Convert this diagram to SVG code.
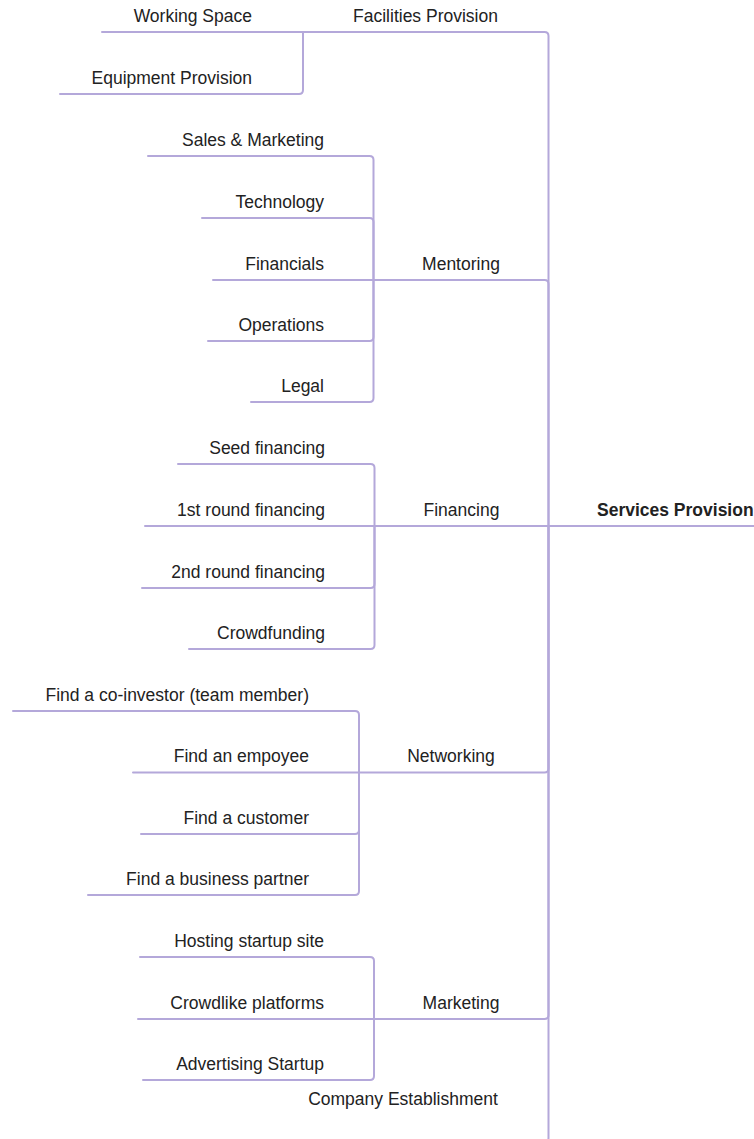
<svg xmlns="http://www.w3.org/2000/svg" width="754" height="1139" viewBox="0 0 754 1139">
<style>
.e{fill:none;stroke:#b4a8da;stroke-width:2;stroke-linecap:round}
text{font-family:"Liberation Sans",Arial,sans-serif;font-size:17.5px;fill:#222}
.r{text-anchor:end}
.m{text-anchor:middle}
.b{font-weight:bold}
</style>
<rect width="754" height="1139" fill="#ffffff"/>
<g id="connectors">
<path class="e" d="M548.5,526 H754"/>
<path class="e" d="M548.5,526 V36 Q548.5,32 544.5,32 H303"/>
<path class="e" d="M548.5,526 V284 Q548.5,280 544.5,280 H373.5"/>
<path class="e" d="M548.5,526 H374.5"/>
<path class="e" d="M548.5,526 V768.5 Q548.5,772.5 544.5,772.5 H359"/>
<path class="e" d="M548.5,526 V1015 Q548.5,1019 544.5,1019 H374"/>
<path class="e" d="M548.5,526 V1138 Q548.5,1142 544.5,1142 H276"/>
<path class="e" d="M303,32 H102"/>
<path class="e" d="M303,32 V90 Q303,94 299,94 H60"/>
<path class="e" d="M373.5,280 V160 Q373.5,156 369.5,156 H148"/>
<path class="e" d="M373.5,280 V222 Q373.5,218 369.5,218 H202"/>
<path class="e" d="M373.5,280 H213"/>
<path class="e" d="M373.5,280 V337 Q373.5,341 369.5,341 H208"/>
<path class="e" d="M373.5,280 V398 Q373.5,402 369.5,402 H251"/>
<path class="e" d="M374.5,526 V468 Q374.5,464 370.5,464 H178"/>
<path class="e" d="M374.5,526 H145"/>
<path class="e" d="M374.5,526 V584 Q374.5,588 370.5,588 H142"/>
<path class="e" d="M374.5,526 V645 Q374.5,649 370.5,649 H189"/>
<path class="e" d="M359,772.5 V715 Q359,711 355,711 H13"/>
<path class="e" d="M359,772.5 H133"/>
<path class="e" d="M359,772.5 V830 Q359,834 355,834 H141"/>
<path class="e" d="M359,772.5 V891 Q359,895 355,895 H88"/>
<path class="e" d="M374,1019 V961 Q374,957 370,957 H140"/>
<path class="e" d="M374,1019 H138"/>
<path class="e" d="M374,1019 V1076 Q374,1080 370,1080 H143"/>
</g>
<g id="root"><text class="b" x="597" y="516">Services Provision</text></g>
<g id="facilities"><text class="m" x="425.5" y="22">Facilities Provision</text></g>
<g id="working-space"><text class="r" x="252" y="22">Working Space</text></g>
<g id="equipment"><text class="r" x="252" y="84">Equipment Provision</text></g>
<g id="mentoring"><text class="m" x="461" y="270">Mentoring</text></g>
<g id="sales"><text class="r" x="324" y="146">Sales &amp; Marketing</text></g>
<g id="technology"><text class="r" x="324" y="208">Technology</text></g>
<g id="financials"><text class="r" x="324" y="270">Financials</text></g>
<g id="operations"><text class="r" x="324" y="331">Operations</text></g>
<g id="legal"><text class="r" x="324" y="392">Legal</text></g>
<g id="financing"><text class="m" x="461.5" y="516">Financing</text></g>
<g id="seed"><text class="r" x="325" y="454">Seed financing</text></g>
<g id="first-round"><text class="r" x="325" y="516">1st round financing</text></g>
<g id="second-round"><text class="r" x="325" y="578">2nd round financing</text></g>
<g id="crowdfunding"><text class="r" x="325" y="639">Crowdfunding</text></g>
<g id="networking"><text class="m" x="451" y="762">Networking</text></g>
<g id="co-investor"><text class="r" x="309" y="701">Find a co-investor (team member)</text></g>
<g id="employee"><text class="r" x="309" y="762">Find an empoyee</text></g>
<g id="customer"><text class="r" x="309" y="824">Find a customer</text></g>
<g id="partner"><text class="r" x="309" y="885">Find a business partner</text></g>
<g id="marketing"><text class="m" x="461" y="1009">Marketing</text></g>
<g id="hosting"><text class="r" x="324" y="947">Hosting startup site</text></g>
<g id="crowdlike"><text class="r" x="324" y="1009">Crowdlike platforms</text></g>
<g id="advertising"><text class="r" x="324" y="1070">Advertising Startup</text></g>
<g id="company"><text class="m" x="403" y="1105">Company Establishment</text></g>
</svg>
